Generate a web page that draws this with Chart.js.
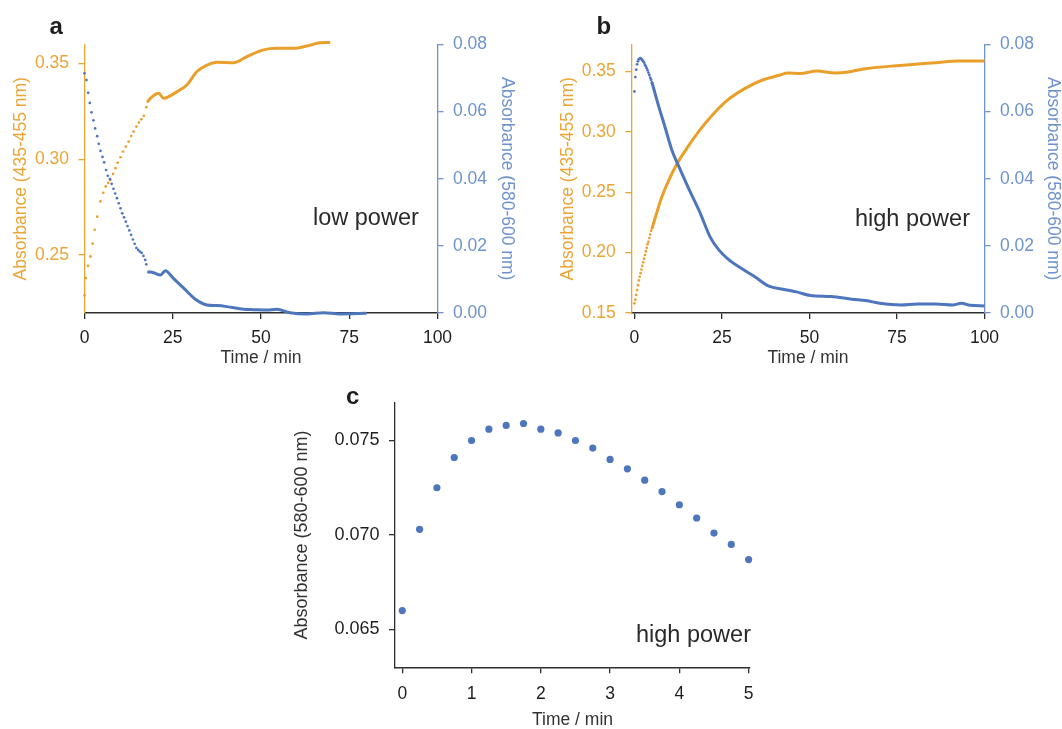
<!DOCTYPE html>
<html>
<head>
<meta charset="utf-8">
<script src="https://cdn.jsdelivr.net/npm/chart.js@4.4.1/dist/chart.umd.min.js"></script>
<style>
  body { margin: 0; background: #fff; width: 1062px; height: 729px; position: relative; overflow: hidden;
         font-family: 'Liberation Sans', Arial, Helvetica, sans-serif; }
  canvas { position: absolute; }
  .txt { position: absolute; line-height: 1; color: #2a2a2a; white-space: nowrap; }
  .letra { font-weight: bold; font-size: 24px; color: #1e1e1e; }
  .modo { font-size: 23.5px; }
</style>
</head>
<body>
<canvas id="chartA" width="520" height="372" style="left:0;top:0"></canvas>
<canvas id="chartB" width="542" height="372" style="left:520px;top:0"></canvas>
<canvas id="chartC" width="500" height="349" style="left:280px;top:380px"></canvas>

<div class="txt letra" style="left:49.5px;top:13.5px">a</div>
<div class="txt letra" style="left:596.5px;top:13.5px">b</div>
<div class="txt letra" style="left:346px;top:384px">c</div>
<div class="txt modo" style="left:313px;top:206px">low power</div>
<div class="txt modo" style="left:855px;top:207px">high power</div>
<div class="txt modo" style="left:636px;top:622.5px;font-size:23.5px">high power</div>

<script>
// ---------- COLORES ----------
const NARANJA    = "#E9A02B";
const NARANJA_AX = "#EAA535";
const AZUL       = "#4E76BC";
const AZUL_AX    = "#6E92CB";
const OSCURO     = "#2e2e2e";
const FUENTE     = "'Liberation Sans', Arial, Helvetica, sans-serif";

// ---------- DATOS ----------
// Panel a (low power) — puntos sueltos al inicio, luego traza densa
const tA_nar_pts = [0, 0.4, 1.0, 1.7, 2.3, 2.9, 3.6, 4.5, 5.3, 6.0, 6.7, 7.35, 8.1, 8.77, 9.4, 10.2, 10.9, 11.7, 12.5, 13.2, 13.9, 14.7, 15.4, 16.1, 16.8, 17.5, 17.9];
const aA_nar_pts = [0.229, 0.238, 0.2444, 0.2493, 0.256, 0.2632, 0.270, 0.278, 0.2825, 0.2858, 0.2877, 0.2892, 0.2923, 0.2953, 0.2982, 0.3010, 0.3040, 0.3066, 0.3092, 0.3121, 0.3144, 0.3170, 0.3191, 0.3208, 0.3226, 0.3271, 0.3300];
const tA_nar_lin = [17.9, 18.7, 21.0, 22.4, 23.8, 26.2, 29.0, 31.8, 34.7, 37.5, 42.2, 46.0, 50.7, 54.5, 59.2, 63.0, 66.7, 69.6];
const aA_nar_lin = [0.3300, 0.3318, 0.3344, 0.3318, 0.3326, 0.3352, 0.3387, 0.3456, 0.3491, 0.3505, 0.3503, 0.3535, 0.3570, 0.3578, 0.3578, 0.3590, 0.3607, 0.3609];

const tA_azul_pts = [0, 0.57, 1.04, 1.5, 1.98, 2.54, 3.0, 3.6, 4.05, 4.52, 5.09, 5.57, 6.1, 6.6, 7.2, 7.7, 8.2, 8.7, 9.2, 9.7, 10.2, 10.7, 11.2, 11.7, 12.2, 12.7, 13.2, 13.7, 14.2, 14.7, 15.2, 15.7, 16.2, 16.7, 17.2, 17.5];
const aA_azul_pts = [0.0714, 0.0694, 0.0656, 0.0626, 0.0598, 0.0574, 0.0550, 0.0527, 0.0504, 0.0483, 0.0465, 0.0449, 0.0426, 0.0409, 0.0399, 0.0385, 0.0370, 0.0356, 0.0342, 0.0327, 0.0312, 0.0297, 0.0285, 0.0272, 0.0259, 0.0246, 0.0233, 0.0219, 0.0206, 0.0194, 0.0188, 0.0183, 0.0179, 0.0170, 0.0158, 0.0145];
const tA_azul_lin = [17.8, 19.6, 21.5, 22.9, 25.2, 28.1, 31.4, 34.7, 37.5, 40.3, 45.1, 48.0, 51.6, 54.5, 58.2, 63.0, 67.7, 72.4, 79.9];
const aA_azul_lin = [0.0123, 0.0120, 0.0113, 0.0126, 0.0103, 0.0074, 0.0041, 0.0024, 0.0022, 0.0019, 0.0011, 0.0010, 0.0009, 0.0011, 0.0001, -0.0003, 0.0001, -0.0003, -0.0001];

// Panel b (high power)
const tB_nar_pts = [0, 0.25, 0.5, 0.75, 1.0, 1.25, 1.5, 1.75, 2.0, 2.25, 2.5, 2.75, 3.0, 3.25, 3.5, 3.75, 4.0, 4.25, 4.5, 4.75, 5.0];
const aB_nar_pts = [0.158, 0.161, 0.165, 0.169, 0.173, 0.177, 0.180, 0.183, 0.186, 0.189, 0.192, 0.195, 0.198, 0.201, 0.204, 0.207, 0.209, 0.212, 0.215, 0.218, 0.220];
const tB_nar_lin = [5.0, 6.3, 7.8, 9.8, 12.2, 15.2, 18.6, 22.6, 26.5, 31.5, 36.4, 41.4, 43.8, 47.3, 52.2, 57.2, 61.1, 66.0, 76.0, 86.0, 92.7, 100];
const aB_nar_lin = [0.220, 0.2323, 0.2460, 0.2599, 0.2737, 0.2874, 0.3012, 0.3150, 0.3261, 0.3358, 0.3427, 0.3468, 0.3487, 0.3482, 0.3504, 0.3487, 0.3495, 0.3523, 0.3550, 0.3572, 0.3586, 0.3586];

// Panel c y primeros 5 min del panel b (580-600 nm)
const tC = [0, 0.25, 0.5, 0.75, 1.0, 1.25, 1.5, 1.75, 2.0, 2.25, 2.5, 2.75, 3.0, 3.25, 3.5, 3.75, 4.0, 4.25, 4.5, 4.75, 5.0];
const aC = [0.0660, 0.0703, 0.0725, 0.0741, 0.0750, 0.0756, 0.0758, 0.0759, 0.0756, 0.0754, 0.0750, 0.0746, 0.0740, 0.0735, 0.0729, 0.0723, 0.0716, 0.0709, 0.0701, 0.0695, 0.0687];
const tB_azul_lin = [5.0, 6.7, 8.7, 10.7, 12.7, 15.7, 18.6, 21.6, 24.1, 26.5, 30.5, 34.4, 38.4, 42.4, 46.3, 50.3, 56.2, 62.2, 66.1, 70.1, 76.1, 81.0, 86.0, 91.0, 93.4, 95.9, 100];
const aB_azul_lin = [0.0687, 0.0624, 0.0555, 0.0485, 0.0436, 0.0366, 0.0302, 0.0227, 0.0188, 0.0163, 0.0133, 0.0108, 0.0080, 0.0071, 0.0063, 0.0052, 0.0049, 0.0041, 0.0037, 0.0029, 0.0024, 0.0027, 0.0027, 0.0024, 0.0029, 0.0023, 0.0021];

// Ticks
const ticksTiempo  = [0, 25, 50, 75, 100];
const ticksTiempoC = [0, 1, 2, 3, 4, 5];
const ticksNarA    = [0.25, 0.30, 0.35];
const ticksNarB    = [0.15, 0.20, 0.25, 0.30, 0.35];
const ticksAzul    = [0, 0.02, 0.04, 0.06, 0.08];
const ticksC       = [0.065, 0.070, 0.075];

const TIT_NAR  = "Absorbance (435-455 nm)";
const TIT_AZUL = "Absorbance (580-600 nm)";
const TIT_T    = "Time / min";

// ---------- HELPERS ----------
const pts = (t, v) => t.map((x, i) => ({ x, y: v[i] }));

function puntos(t, v, color, eje, r) {
  return { data: pts(t, v), yAxisID: eje, showLine: false, pointRadius: r, pointHoverRadius: 0,
           pointBackgroundColor: color, pointBorderWidth: 0, clip: false };
}
function traza(t, v, color, eje) {
  return { data: pts(t, v), yAxisID: eje, showLine: true, borderColor: color, borderWidth: 3,
           pointRadius: 0, cubicInterpolationMode: "monotone", clip: false };
}

function ejeY(pos, color, min, max, ticks, dec, titulo, ancho, pad) {
  return {
    type: "linear", position: pos, min, max,
    afterFit: s => { s.width = ancho; },
    afterBuildTicks: s => { s.ticks = ticks.map(v => ({ value: v })); },
    border: { display: true, color, width: 1.3 },
    grid: { display: true, drawOnChartArea: false, drawTicks: true, tickLength: 6, color, lineWidth: 1.3 },
    ticks: { color, padding: 9.5, font: { size: 17.5, family: FUENTE }, callback: v => Number(v).toFixed(dec) },
    title: { display: true, text: titulo, color, font: { size: 17.5, family: FUENTE, lineHeight: 1 },
             padding: { top: pad, bottom: 0 } }
  };
}

function ejeX(min, max, ticks, alto, padTit, padTick) {
  return {
    type: "linear", position: "bottom", min, max,
    afterFit: s => { s.height = alto; },
    afterBuildTicks: s => { s.ticks = ticks.map(v => ({ value: v })); },
    border: { display: true, color: OSCURO, width: 1.5 },
    grid: { display: true, drawOnChartArea: false, drawTicks: true, tickLength: 6, color: OSCURO, lineWidth: 1.3 },
    ticks: { color: "#1e1e1e", padding: padTick, maxRotation: 0, autoSkip: false, font: { size: 17.5, family: FUENTE } },
    title: { display: true, text: TIT_T, color: "#333", font: { size: 17.5, family: FUENTE, lineHeight: 1 },
             padding: { top: 0, bottom: padTit } }
  };
}

function crearGrafica(id, datasets, scales, padding) {
  return new Chart(document.getElementById(id), {
    type: "scatter",
    data: { datasets },
    options: {
      responsive: false, animation: false,
      layout: { padding },
      plugins: { legend: { display: false }, tooltip: { enabled: false } },
      scales
    }
  });
}

// ---------- PANEL A ----------
crearGrafica("chartA", [
  puntos(tA_azul_pts, aA_azul_pts, AZUL, "y2", 1.35),
  traza(tA_azul_lin, aA_azul_lin, AZUL, "y2"),
  puntos(tA_nar_pts, aA_nar_pts, NARANJA, "y", 1.35),
  traza(tA_nar_lin, aA_nar_lin, NARANJA, "y")
], {
  x:  ejeX(0, 100, ticksTiempo, 59, 5.5, 8.5),
  y:  ejeY("left", NARANJA_AX, 0.2198, 0.3598, ticksNarA, 2, TIT_NAR, 84.5, 12),
  y2: ejeY("right", AZUL_AX, 0, 0.08, ticksAzul, 2, TIT_AZUL, 82.5, 4.5)
}, { top: 44.5, left: 0, right: 0, bottom: 0 });

// ---------- PANEL B ----------
crearGrafica("chartB", [
  puntos(tC, aC, AZUL, "y2", 1.4),
  traza(tB_azul_lin, aB_azul_lin, AZUL, "y2"),
  puntos(tB_nar_pts, aB_nar_pts, NARANJA, "y", 1.35),
  traza(tB_nar_lin, aB_nar_lin, NARANJA, "y")
], {
  x:  ejeX(-0.9, 100, ticksTiempo, 59, 5.5, 8.5),
  y:  ejeY("left", NARANJA_AX, 0.15, 0.3723, ticksNarB, 2, TIT_NAR, 111.3, 39.6),
  y2: ejeY("right", AZUL_AX, 0, 0.08, ticksAzul, 2, TIT_AZUL, 77.5, 0)
}, { top: 44.5, left: 0, right: 0, bottom: 0 });

// ---------- PANEL C ----------
const ejeYC = ejeY("left", OSCURO, 0.063, 0.077, ticksC, 3, TIT_AZUL, 115, 12.7);
ejeYC.ticks.color = "#1e1e1e";
ejeYC.title.color = "#333";
ejeYC.title.font.size = 18;
ejeYC.ticks.font.size = 18;
crearGrafica("chartC", [
  puntos(tC, aC, AZUL, "y", 3.6)
], {
  x: ejeX(-0.105, 5.02, ticksTiempoC, 61.7, 0, 10),
  y: ejeYC
}, { top: 22.7, left: 0, right: 30, bottom: 0 });
</script>
</body>
</html>
